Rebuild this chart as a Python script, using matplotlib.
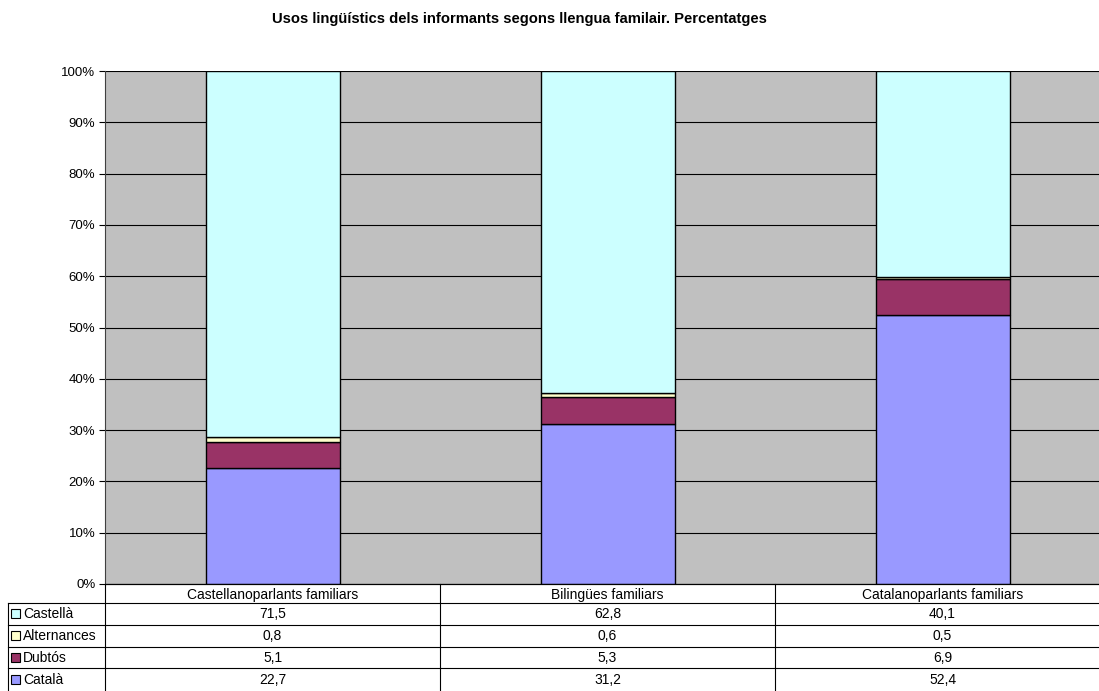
import matplotlib.pyplot as plt
import numpy as np

plt.rcParams['font.family'] = ['Liberation Sans', 'DejaVu Sans']

categories = ['Castellanoparlants familiars', 'Bilingües familiars', 'Catalanoparlants familiars']
series_names = ['Castellà', 'Alternances', 'Dubtós', 'Català']
castella = [71.5, 62.8, 40.1]
alternances = [0.8, 0.6, 0.5]
dubtos = [5.1, 5.3, 6.9]
catala = [22.7, 31.2, 52.4]
colors = {'Castellà': '#CCFFFF', 'Alternances': '#FFFFCC', 'Dubtós': '#993366', 'Català': '#9999FF'}

title = 'Usos lingüístics dels informants segons llengua familair. Percentatges'

W, H = 1099, 691
fig = plt.figure(figsize=(W / 100, H / 100), dpi=100)

# plot area in pixels: x 105..1110, y 71..584
left, right, top, bottom = 105, 1110, 71, 584
ax = fig.add_axes([left / W, 1 - bottom / H, (right - left) / W, (bottom - top) / H])
ax.set_facecolor('#C0C0C0')

values = {'Castellà': castella, 'Alternances': alternances, 'Dubtós': dubtos, 'Català': catala}
totals = np.sum([values[s] for s in series_names], axis=0)
x = np.arange(len(categories))
base = np.zeros(len(categories))
for s in ['Català', 'Dubtós', 'Alternances', 'Castellà']:
    v = np.array(values[s]) / totals * 100
    ax.bar(x, v, bottom=base, width=0.4, color=colors[s], edgecolor='black', linewidth=1, zorder=3)
    base += v

ax.set_xlim(-0.5, len(categories) - 0.5)
ax.set_ylim(0, 100)
ax.set_yticks(np.arange(0, 101, 10))
ax.set_yticklabels([f'{t}%' for t in range(0, 101, 10)], fontsize=9.5)
ax.grid(axis='y', color='black', linewidth=0.8, zorder=1)
ax.set_axisbelow(True)
ax.set_xticks([])
ax.tick_params(axis='y', direction='out', length=4, width=0.8, pad=3)
for sp in ['top', 'right']:
    ax.spines[sp].set_visible(False)
ax.spines['left'].set_color('#404040')
ax.spines['bottom'].set_color('black')

fig.text(519 / W, 1 - 19 / H, title, ha='center', va='center', fontsize=10.6, fontweight='bold')

# data table in pixel coordinates
tab = fig.add_axes([0, 0, 1, 1])
tab.set_xlim(0, W)
tab.set_ylim(H, 0)
tab.axis('off')
tab.patch.set_alpha(0)

col_w = (right - left) / len(categories)
row_h = 21.8
hdr_h = 19
leg_left = 8
lw = 0.8
fs = 10

# header row
tab.plot([left, right], [bottom, bottom], color='black', lw=lw)
for i, c in enumerate(categories):
    cx = left + col_w * (i + 0.5)
    tab.text(cx, bottom + hdr_h / 2 + 1, c, ha='center', va='center', fontsize=fs)
y0 = bottom + hdr_h
for i in range(len(categories) + 1):
    xx = left + col_w * i
    tab.plot([xx, xx], [bottom, H + 5], color='black', lw=lw)
tab.plot([leg_left, leg_left], [y0, H + 5], color='black', lw=lw)
for r, s in enumerate(series_names):
    yt = y0 + row_h * r
    tab.plot([leg_left, right], [yt, yt], color='black', lw=lw)
    yc = yt + row_h / 2
    tab.add_patch(plt.Rectangle((leg_left + 3, yc - 4.5), 9, 9, facecolor=colors[s],
                                edgecolor='black', lw=0.8))
    tab.text(leg_left + 15, yc + 0.5, s, ha='left', va='center', fontsize=fs)
    for i in range(len(categories)):
        cx = left + col_w * (i + 0.5)
        tab.text(cx, yc + 0.5, f'{values[s][i]:.1f}'.replace('.', ','), ha='center', va='center', fontsize=fs)

fig.savefig('out.png', dpi=100, facecolor='white')
